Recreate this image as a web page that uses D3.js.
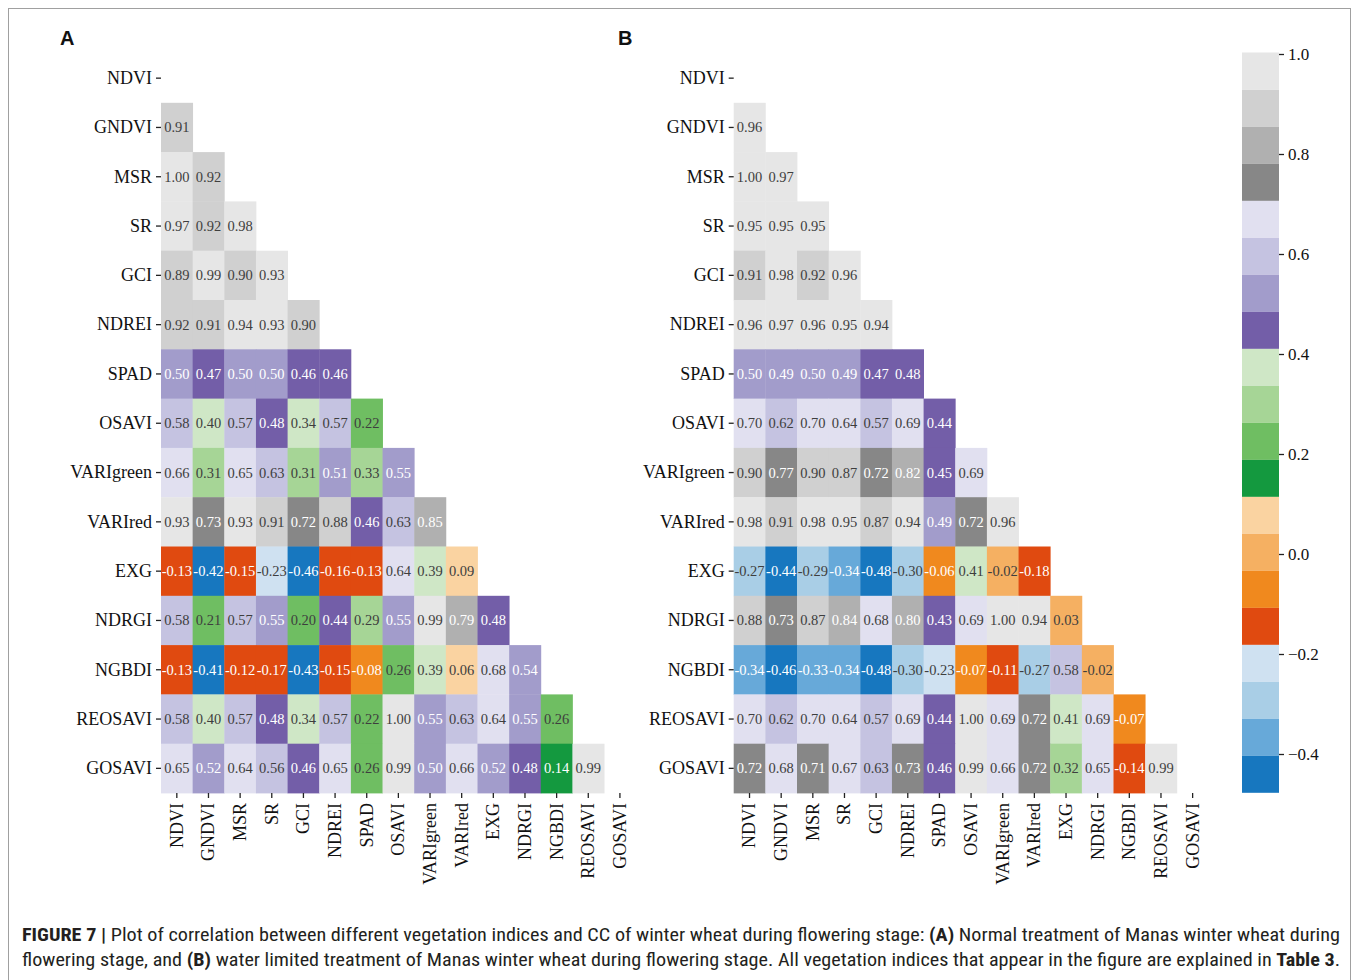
<!DOCTYPE html>
<html>
<head>
<meta charset="utf-8">
<script src="https://cdn.jsdelivr.net/npm/d3@7"></script>
<style>
  body { margin: 0; background: #fff; }
  svg { display: block; }
</style>
</head>
<body>
<svg id="fig" width="1357" height="980"></svg>
<script>
// Vegetation indices, in matrix order (rows top→bottom, columns left→right)
const indices = ["NDVI", "GNDVI", "MSR", "SR", "GCI", "NDREI", "SPAD", "OSAVI",
  "VARIgreen", "VARIred", "EXG", "NDRGI", "NGBDI", "REOSAVI", "GOSAVI"];

// Lower triangle of the correlation matrix, normal treatment (row k pairs indices[k] with indices[0..k-1])
const corrNormal = [
  [],
  [0.91],
  [1.00, 0.92],
  [0.97, 0.92, 0.98],
  [0.89, 0.99, 0.90, 0.93],
  [0.92, 0.91, 0.94, 0.93, 0.90],
  [0.50, 0.47, 0.50, 0.50, 0.46, 0.46],
  [0.58, 0.40, 0.57, 0.48, 0.34, 0.57, 0.22],
  [0.66, 0.31, 0.65, 0.63, 0.31, 0.51, 0.33, 0.55],
  [0.93, 0.73, 0.93, 0.91, 0.72, 0.88, 0.46, 0.63, 0.85],
  [-0.13, -0.42, -0.15, -0.23, -0.46, -0.16, -0.13, 0.64, 0.39, 0.09],
  [0.58, 0.21, 0.57, 0.55, 0.20, 0.44, 0.29, 0.55, 0.99, 0.79, 0.48],
  [-0.13, -0.41, -0.12, -0.17, -0.43, -0.15, -0.08, 0.26, 0.39, 0.06, 0.68, 0.54],
  [0.58, 0.40, 0.57, 0.48, 0.34, 0.57, 0.22, 1.00, 0.55, 0.63, 0.64, 0.55, 0.26],
  [0.65, 0.52, 0.64, 0.56, 0.46, 0.65, 0.26, 0.99, 0.50, 0.66, 0.52, 0.48, 0.14, 0.99]
];

// Lower triangle of the correlation matrix, water limited treatment
const corrLimited = [
  [],
  [0.96],
  [1.00, 0.97],
  [0.95, 0.95, 0.95],
  [0.91, 0.98, 0.92, 0.96],
  [0.96, 0.97, 0.96, 0.95, 0.94],
  [0.50, 0.49, 0.50, 0.49, 0.47, 0.48],
  [0.70, 0.62, 0.70, 0.64, 0.57, 0.69, 0.44],
  [0.90, 0.77, 0.90, 0.87, 0.72, 0.82, 0.45, 0.69],
  [0.98, 0.91, 0.98, 0.95, 0.87, 0.94, 0.49, 0.72, 0.96],
  [-0.27, -0.44, -0.29, -0.34, -0.48, -0.30, -0.06, 0.41, -0.02, -0.18],
  [0.88, 0.73, 0.87, 0.84, 0.68, 0.80, 0.43, 0.69, 1.00, 0.94, 0.03],
  [-0.34, -0.46, -0.33, -0.34, -0.48, -0.30, -0.23, -0.07, -0.11, -0.27, 0.58, -0.02],
  [0.70, 0.62, 0.70, 0.64, 0.57, 0.69, 0.44, 1.00, 0.69, 0.72, 0.41, 0.69, -0.07],
  [0.72, 0.68, 0.71, 0.67, 0.63, 0.73, 0.46, 0.99, 0.66, 0.72, 0.32, 0.65, -0.14, 0.99]
];

// Colour bar tick values
const colorbarTicks = [-0.4, -0.2, 0.0, 0.2, 0.4, 0.6, 0.8, 1.0];

// Quantised colour map: 20 bins, four shades each of blue, orange, green, purple, grey
const colorDomain = [-0.477, 1.003];
const palette = [
  "#1777bf", "#67a9d9", "#a9cee6", "#cfe1f1",
  "#e04a10", "#f0891e", "#f5b062", "#fad3a1",
  "#14993f", "#6fbe62", "#a6d596", "#cfe7c6",
  "#735ea8", "#a29ccb", "#c5c3e1", "#e1e0f0",
  "#878787", "#b0b0b0", "#d0d0d0", "#e6e6e6"
];
// Annotation ink for each bin (light text on the darker shades)
const LIGHT = "#ffffff", DARK = "#3e3e3e";
const labelInk = [
  LIGHT, LIGHT, DARK, DARK,
  LIGHT, LIGHT, DARK, DARK,
  LIGHT, DARK, DARK, DARK,
  LIGHT, LIGHT, DARK, DARK,
  LIGHT, LIGHT, DARK, DARK
];

const captionLine1 = [
  {t: "FIGURE 7 |", b: true},
  {t: " Plot of correlation between different vegetation indices and CC of winter wheat during flowering stage: "},
  {t: "(A)", b: true},
  {t: " Normal treatment of Manas winter wheat during"}
];
const captionLine2 = [
  {t: "flowering stage, and "},
  {t: "(B)", b: true},
  {t: " water limited treatment of Manas winter wheat during flowering stage. All vegetation indices that appear in the figure are explained in "},
  {t: "Table 3", b: true},
  {t: "."}
];

// ---- layout ----
const svg = d3.select("#fig");
const serif = "'Liberation Serif', 'Times New Roman', serif";
const cellW = 31.65;
const gridTop = 53.5, gridBottom = 793;

const color = d3.scaleQuantize().domain(colorDomain).range(palette);
const ink = d3.scaleQuantize().domain(colorDomain).range(labelInk);
const fmt = d3.format(".2f");

// outer frame
svg.append("rect")
  .attr("x", 8.5).attr("y", 8.5)
  .attr("width", 1342).attr("height", 980)
  .attr("fill", "none").attr("stroke", "#a0a0a0").attr("stroke-width", 1);

function drawPanel(values, left, letter, letterX) {
  const g = svg.append("g");
  const x = d3.scaleBand().domain(indices).range([left, left + indices.length * cellW]);
  const y = d3.scaleBand().domain(indices).range([gridTop, gridBottom]);

  const cells = values.flatMap((row, i) =>
    row.map((v, j) => ({row: indices[i], col: indices[j], v})));

  g.selectAll("rect.cell").data(cells).join("rect")
    .attr("class", "cell")
    .attr("x", d => x(d.col))
    .attr("y", d => y(d.row))
    .attr("width", x.bandwidth() + 0.4)
    .attr("height", y.bandwidth() + 0.4)
    .attr("fill", d => color(d.v));

  g.selectAll("text.val").data(cells).join("text")
    .attr("class", "val")
    .attr("x", d => x(d.col) + x.bandwidth() / 2)
    .attr("y", d => y(d.row) + y.bandwidth() / 2)
    .attr("text-anchor", "middle")
    .attr("dominant-baseline", "central")
    .attr("font-family", serif)
    .attr("font-size", 14.5)
    .attr("fill", d => ink(d.v))
    .text(d => fmt(d.v).replace("\u2212", "-"));

  // row axis
  const ay = g.append("g")
    .attr("transform", `translate(${left},0)`)
    .call(d3.axisLeft(y).tickSize(5).tickPadding(4));
  ay.select(".domain").remove();
  ay.selectAll("line").attr("stroke", "#222").attr("stroke-width", 1.3);
  ay.selectAll("text").attr("font-family", serif).attr("font-size", 18).attr("fill", "#111");

  // column axis
  const ax = g.append("g")
    .attr("transform", `translate(0,${gridBottom})`)
    .call(d3.axisBottom(x).tickSize(5).tickPadding(4));
  ax.select(".domain").remove();
  ax.selectAll("line").attr("stroke", "#222").attr("stroke-width", 1.3);
  ax.selectAll("text")
    .attr("font-family", serif).attr("font-size", 18).attr("fill", "#111")
    .attr("transform", "rotate(-90)")
    .attr("x", -10).attr("y", 0).attr("dy", "0.33em")
    .attr("text-anchor", "end");

  svg.append("text")
    .attr("x", letterX).attr("y", 45)
    .attr("font-family", "'Liberation Sans', Arial, sans-serif")
    .attr("font-weight", "bold").attr("font-size", 20).attr("fill", "#111")
    .text(letter);
}

drawPanel(corrNormal, 161, "A", 60);
drawPanel(corrLimited, 733.7, "B", 618);

// ---- colour bar ----
const cbX = 1242, cbW = 37;
const cbScale = d3.scaleLinear().domain(colorDomain).range([792.5, 52.5]);
const cb = svg.append("g");
cb.selectAll("rect").data(palette).join("rect")
  .attr("x", cbX)
  .attr("y", c => cbScale(color.invertExtent(c)[1]))
  .attr("width", cbW)
  .attr("height", c => cbScale(color.invertExtent(c)[0]) - cbScale(color.invertExtent(c)[1]) + 0.3)
  .attr("fill", c => c);
const cbAxis = cb.append("g")
  .attr("transform", `translate(${cbX + cbW},0)`)
  .call(d3.axisRight(cbScale).tickValues(colorbarTicks).tickFormat(d3.format(".1f")).tickSize(5).tickPadding(4));
cbAxis.select(".domain").remove();
cbAxis.selectAll("line").attr("stroke", "#222").attr("stroke-width", 1.3);
cbAxis.selectAll("text").attr("font-family", serif).attr("font-size", 17).attr("fill", "#111");

// ---- caption ----
const capFont = "'Liberation Sans Narrow', 'Roboto Condensed', 'DejaVu Sans Condensed', Arial, sans-serif";
function captionLine(parts, yBase) {
  const t = svg.append("text")
    .attr("x", 22).attr("y", yBase)
    .attr("font-family", capFont).attr("font-size", 18.5).attr("fill", "#231f20")
    .attr("textLength", 1318).attr("lengthAdjust", "spacingAndGlyphs")
    .attr("xml:space", "preserve");
  parts.forEach(p => t.append("tspan").attr("font-weight", p.b ? "bold" : "normal").text(p.t));
}
captionLine(captionLine1, 941);
captionLine(captionLine2, 966);
</script>
</body>
</html>
